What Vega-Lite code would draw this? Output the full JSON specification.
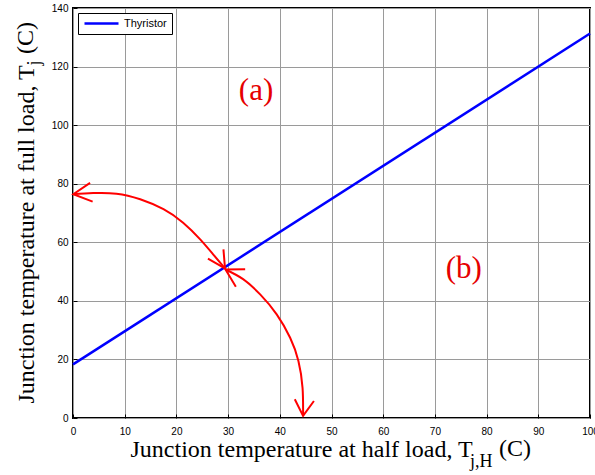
{
  "$schema": "https://vega.github.io/schema/vega-lite/v6.json",
  "width": 517,
  "height": 410,
  "autosize": {"type": "none"},
  "padding": {"left": 73, "top": 8, "right": 5, "bottom": 57},
  "background": "white",
  "config": {
    "view": {"stroke": "#000000", "strokeWidth": 2},
    "axis": {
      "grid": true,
      "gridColor": "#9a9a9a",
      "gridWidth": 1,
      "gridOpacity": 1,
      "domain": false,
      "labelFont": "Liberation Sans",
      "labelFontSize": 10,
      "labelColor": "#000000",
      "labelFlush": false,
      "labelOverlap": false,
      "labelBound": false,
      "tickColor": "#000000",
      "tickSize": -4,
      "titleFont": "Liberation Serif",
      "titleFontSize": 24,
      "titleFontWeight": "normal",
      "titleColor": "#000000"
    },
    "legend": {
      "orient": "top-left",
      "offset": 5,
      "fillColor": "white",
      "strokeColor": "#000000",
      "strokeWidth": 1,
      "padding": 5,
      "symbolType": "stroke",
      "symbolSize": 1156,
      "symbolStrokeWidth": 2.5,
      "clipHeight": 11,
      "labelFont": "Liberation Sans",
      "labelFontSize": 11,
      "labelColor": "#000000",
      "labelOffset": 4
    }
  },
  "datasets": {
    "thyristor": [
      {"series": "Thyristor", "x": 0, "y": 18.3},
      {"series": "Thyristor", "x": 100, "y": 131.3}
    ],
    "arcs": [
      {"seg": "up", "i": 0, "x": 0.06, "y": 76.4},
      {"seg": "up", "i": 1, "x": 3.9, "y": 76.8},
      {"seg": "up", "i": 2, "x": 8.4, "y": 76.6},
      {"seg": "up", "i": 3, "x": 13.0, "y": 74.7},
      {"seg": "up", "i": 4, "x": 17.5, "y": 71.3},
      {"seg": "up", "i": 5, "x": 21.3, "y": 66.7},
      {"seg": "up", "i": 6, "x": 24.6, "y": 61.0},
      {"seg": "up", "i": 7, "x": 27.1, "y": 55.9},
      {"seg": "up", "i": 8, "x": 29.4, "y": 51.1},
      {"seg": "down", "i": 0, "x": 29.5, "y": 50.7},
      {"seg": "down", "i": 1, "x": 32.9, "y": 47.4},
      {"seg": "down", "i": 2, "x": 36.2, "y": 42.2},
      {"seg": "down", "i": 3, "x": 39.4, "y": 35.4},
      {"seg": "down", "i": 4, "x": 42.0, "y": 27.4},
      {"seg": "down", "i": 5, "x": 43.6, "y": 19.5},
      {"seg": "down", "i": 6, "x": 44.4, "y": 10.3},
      {"seg": "down", "i": 7, "x": 44.5, "y": 0.7}
    ],
    "heads": [
      {"seg": "h1", "i": 0, "x": 3.3, "y": 80.3},
      {"seg": "h1", "i": 1, "x": 0.06, "y": 76.4},
      {"seg": "h1", "i": 2, "x": 3.8, "y": 73.9},
      {"seg": "h2", "i": 0, "x": 29.1, "y": 57.6},
      {"seg": "h2", "i": 1, "x": 29.4, "y": 51.1},
      {"seg": "h2", "i": 2, "x": 26.1, "y": 54.4},
      {"seg": "h3", "i": 0, "x": 33.3, "y": 50.8},
      {"seg": "h3", "i": 1, "x": 29.5, "y": 50.7},
      {"seg": "h3", "i": 2, "x": 31.5, "y": 44.8},
      {"seg": "h4", "i": 0, "x": 42.9, "y": 6.4},
      {"seg": "h4", "i": 1, "x": 44.5, "y": 0.7},
      {"seg": "h4", "i": 2, "x": 46.6, "y": 5.8}
    ],
    "notes": [
      {"label": "(a)", "x": 35.4, "y": 111.6},
      {"label": "(b)", "x": 75.6, "y": 50.9}
    ],
    "xsub": [{"label": "j,H", "x": 76.8, "y": -16.7}],
    "xunit": [{"label": "(C)", "x": 82.4, "y": -13.0}],
    "ysub": [{"label": "j", "x": -6.3, "y": 120.4}],
    "yunit": [{"label": "(C)", "x": -7.74, "y": 124.3}]
  },
  "layer": [
    {
      "data": {"name": "thyristor"},
      "mark": {"type": "line", "strokeWidth": 2.5},
      "encoding": {
        "x": {
          "field": "x",
          "type": "quantitative",
          "scale": {"domain": [0, 100], "nice": false, "zero": false},
          "axis": {
            "title": "Junction temperature at half load, T",
            "values": [0, 10, 20, 30, 40, 50, 60, 70, 80, 90, 100],
            "labelPadding": 12,
            "titleX": 57,
            "titleY": 38,
            "titleAlign": "left",
            "titleBaseline": "alphabetic"
          }
        },
        "y": {
          "field": "y",
          "type": "quantitative",
          "scale": {"domain": [0, 140], "nice": false, "zero": false},
          "axis": {
            "title": "Junction temperature at full load, T",
            "values": [0, 20, 40, 60, 80, 100, 120, 140],
            "labelPadding": 9,
            "titleX": -40,
            "titleY": 395,
            "titleAlign": "left",
            "titleBaseline": "alphabetic"
          }
        },
        "color": {
          "field": "series",
          "type": "nominal",
          "scale": {"range": ["#0000ff"]},
          "legend": {"title": null}
        }
      }
    },
    {
      "data": {"name": "arcs"},
      "mark": {"type": "line", "interpolate": "natural", "color": "#ff0000", "strokeWidth": 2},
      "encoding": {
        "x": {"field": "x", "type": "quantitative"},
        "y": {"field": "y", "type": "quantitative"},
        "detail": {"field": "seg"},
        "order": {"field": "i", "type": "quantitative"}
      }
    },
    {
      "data": {"name": "heads"},
      "mark": {"type": "line", "color": "#ff0000", "strokeWidth": 2},
      "encoding": {
        "x": {"field": "x", "type": "quantitative"},
        "y": {"field": "y", "type": "quantitative"},
        "detail": {"field": "seg"},
        "order": {"field": "i", "type": "quantitative"}
      }
    },
    {
      "data": {"name": "notes"},
      "mark": {"type": "text", "font": "Liberation Serif", "fontSize": 31, "color": "#e60000", "align": "center", "baseline": "middle"},
      "encoding": {
        "x": {"field": "x", "type": "quantitative"},
        "y": {"field": "y", "type": "quantitative"},
        "text": {"field": "label"}
      }
    },
    {
      "data": {"name": "xsub"},
      "mark": {"type": "text", "font": "Liberation Serif", "fontSize": 18, "color": "#000000", "align": "left", "baseline": "alphabetic"},
      "encoding": {
        "x": {"field": "x", "type": "quantitative"},
        "y": {"field": "y", "type": "quantitative"},
        "text": {"field": "label"}
      }
    },
    {
      "data": {"name": "xunit"},
      "mark": {"type": "text", "font": "Liberation Serif", "fontSize": 24, "color": "#000000", "align": "left", "baseline": "alphabetic"},
      "encoding": {
        "x": {"field": "x", "type": "quantitative"},
        "y": {"field": "y", "type": "quantitative"},
        "text": {"field": "label"}
      }
    },
    {
      "data": {"name": "ysub"},
      "mark": {"type": "text", "font": "Liberation Serif", "fontSize": 18, "color": "#000000", "align": "left", "baseline": "alphabetic", "angle": 270},
      "encoding": {
        "x": {"field": "x", "type": "quantitative"},
        "y": {"field": "y", "type": "quantitative"},
        "text": {"field": "label"}
      }
    },
    {
      "data": {"name": "yunit"},
      "mark": {"type": "text", "font": "Liberation Serif", "fontSize": 24, "color": "#000000", "align": "left", "baseline": "alphabetic", "angle": 270},
      "encoding": {
        "x": {"field": "x", "type": "quantitative"},
        "y": {"field": "y", "type": "quantitative"},
        "text": {"field": "label"}
      }
    }
  ]
}
